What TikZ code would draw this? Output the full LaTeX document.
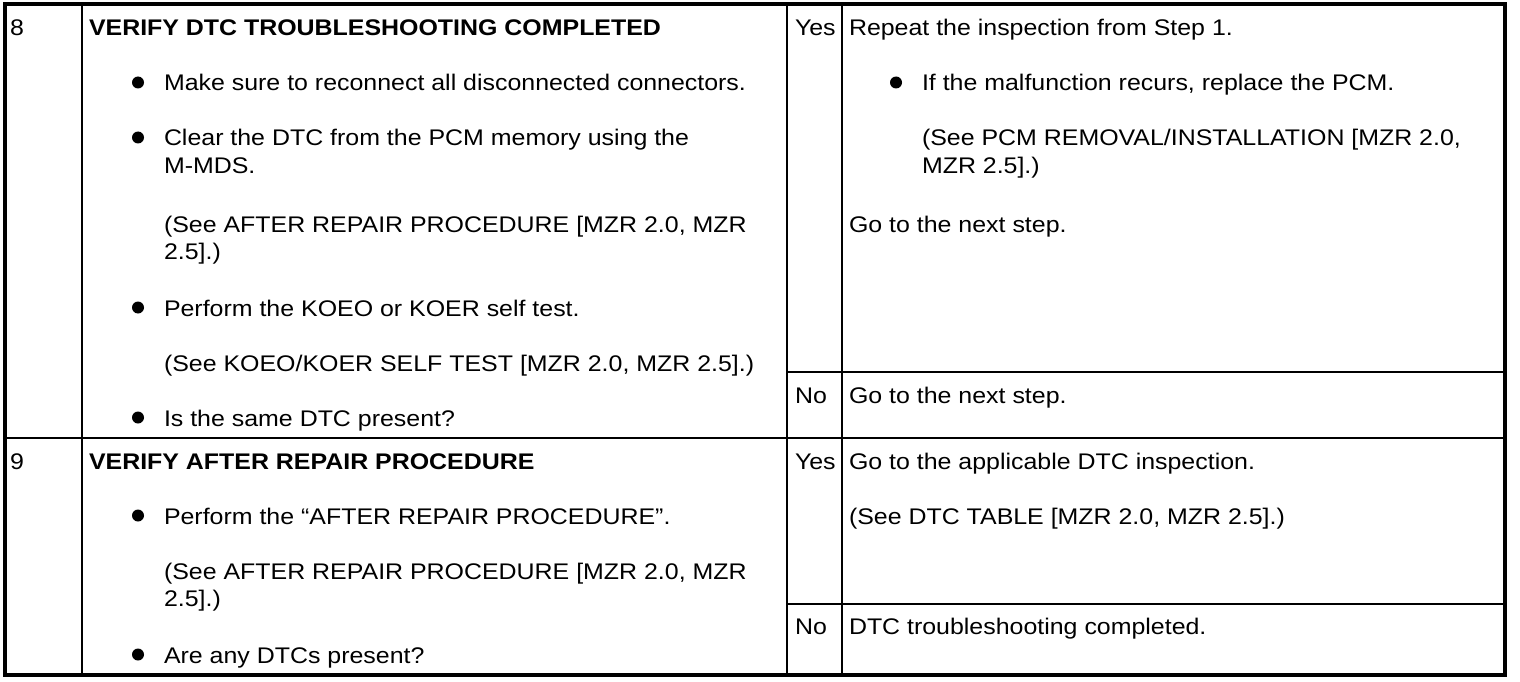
\documentclass[tikz,border=0pt]{standalone}
\usepackage{fontspec}
\setmainfont{Liberation Sans}[FakeStretch=1.103]
\begin{document}
\begin{tikzpicture}[x=1pt,y=-1pt,
  txt/.style={anchor=base west,inner sep=0pt,outer sep=0pt,font=\fontsize{22.6}{27}\selectfont},
  ttl/.style={txt,font=\fontsize{22.6}{27}\selectfont\bfseries},
  bul/.style={circle,fill=black,inner sep=0pt,minimum size=12pt},
  outer/.style={line width=4pt},
  inner/.style={line width=1.3pt}]
\useasboundingbox (0,0) rectangle (1520,682);
\fill[white] (0,0) rectangle (1520,682);
% grid coordinates
\coordinate (TL) at (4.5,4.5);
\coordinate (BR) at (1504.5,675);
\coordinate (c1t) at (82,4.5);   \coordinate (c1b) at (82,675);
\coordinate (c2t) at (787,4.5);  \coordinate (c2b) at (787,675);
\coordinate (c3t) at (842,4.5);  \coordinate (c3b) at (842,675);
\coordinate (r1l) at (4.5,438);  \coordinate (r1r) at (1504.5,438);
\coordinate (n8l) at (787,372);  \coordinate (n8r) at (1504.5,372);
\coordinate (n9l) at (787,604);  \coordinate (n9r) at (1504.5,604);
\draw[inner] (c1t) -- (c1b);
\draw[inner] (c2t) -- (c2b);
\draw[inner] (c3t) -- (c3b);
\draw[inner] (r1l) -- (r1r);
\draw[inner] (n8l) -- (n8r);
\draw[inner] (n9l) -- (n9r);
\draw[outer] (TL) rectangle (BR);
% row 8
\node[txt] (s8) at (10,36) {8};
\node[ttl] (t8) at (89,36) {VERIFY DTC TROUBLESHOOTING COMPLETED};
\node[bul] (b81) at (138,82.5) {};
\node[txt] (p81) at (164,91) {Make sure to reconnect all disconnected connectors.};
\node[bul] (b82) at (138,137.5) {};
\node[txt] (p82) at (164,146) {Clear the DTC from the PCM memory using the};
\node[txt] (p82b) at (164,173) {M-MDS.};
\node[txt] (p83) at (164,232) {(See AFTER REPAIR PROCEDURE [MZR 2.0, MZR};
\node[txt] (p83b) at (164,259) {2.5].)};
\node[bul] (b84) at (138,307.5) {};
\node[txt] (p84) at (164,316) {Perform the KOEO or KOER self test.};
\node[txt] (p85) at (164,371) {(See KOEO/KOER SELF TEST [MZR 2.0, MZR 2.5].)};
\node[bul] (b86) at (138,417.5) {};
\node[txt] (p86) at (164,426) {Is the same DTC present?};
\node[txt] (y8) at (795,36) {Yes};
\node[txt] (a81) at (849,36) {Repeat the inspection from Step 1.};
\node[bul] (b87) at (896,82.5) {};
\node[txt] (a82) at (922,91) {If the malfunction recurs, replace the PCM.};
\node[txt] (a83) at (922,146) {(See PCM REMOVAL/INSTALLATION [MZR 2.0,};
\node[txt] (a83b) at (922,173) {MZR 2.5].)};
\node[txt] (a84) at (849,232) {Go to the next step.};
\node[txt] (no8) at (795,403) {No};
\node[txt] (a85) at (849,403) {Go to the next step.};
% row 9
\node[txt] (s9) at (10,469) {9};
\node[ttl] (t9) at (89,469) {VERIFY AFTER REPAIR PROCEDURE};
\node[bul] (b91) at (138,515.5) {};
\node[txt] (p91) at (164,524) {Perform the “AFTER REPAIR PROCEDURE”.};
\node[txt] (p92) at (164,579) {(See AFTER REPAIR PROCEDURE [MZR 2.0, MZR};
\node[txt] (p92b) at (164,606) {2.5].)};
\node[bul] (b93) at (138,654.5) {};
\node[txt] (p93) at (164,663) {Are any DTCs present?};
\node[txt] (y9) at (795,469) {Yes};
\node[txt] (a91) at (849,469) {Go to the applicable DTC inspection.};
\node[txt] (a92) at (849,524) {(See DTC TABLE [MZR 2.0, MZR 2.5].)};
\node[txt] (no9) at (795,634) {No};
\node[txt] (a93) at (849,634) {DTC troubleshooting completed.};
\end{tikzpicture}
\end{document}
